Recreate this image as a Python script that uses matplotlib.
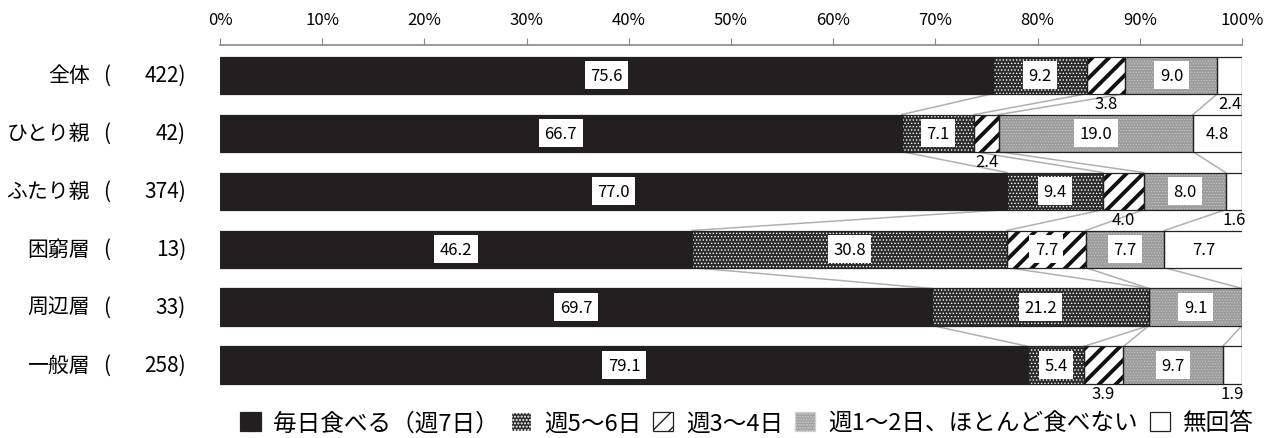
import numpy as np
import matplotlib
matplotlib.use("Agg")
import matplotlib.pyplot as plt
from matplotlib.patches import Patch
from matplotlib.transforms import blended_transform_factory

plt.rcParams['font.family'] = ['Noto Sans CJK JP', 'DejaVu Sans']

# Data
groups = ['全体', 'ひとり親', 'ふたり親', '困窮層', '周辺層', '一般層']
counts = [422, 42, 374, 13, 33, 258]
categories = ['毎日食べる（週7日）', '週5～6日', '週3～4日',
              '週1～2日、ほとんど食べない', '無回答']
every_day = [75.6, 66.7, 77.0, 46.2, 69.7, 79.1]
days_5_6 = [9.2, 7.1, 9.4, 30.8, 21.2, 5.4]
days_3_4 = [3.8, 2.4, 4.0, 7.7, 0.0, 3.9]
days_1_2 = [9.0, 19.0, 8.0, 7.7, 9.1, 9.7]
no_answer = [2.4, 4.8, 1.6, 7.7, 0.0, 1.9]

series = [every_day, days_5_6, days_3_4, days_1_2, no_answer]
# (face, hatch colour, hatch, hatch linewidth)
styles = [
    ('#231f20', '#231f20', None, 1.0),
    ('#2b2b2b', 'white', '.....', 0.6),
    ('white', '#111111', '//', 2.8),
    ('#9c9c9c', '#cfcfcf', '......', 0.4),
    ('white', 'white', None, 1.0),
]

W, H = 1277, 439
fig = plt.figure(figsize=(W / 100, H / 100), dpi=100)
ax = fig.add_axes([220 / W, (H - 395) / H, (1242 - 220) / W, (395 - 46) / H])

y = np.arange(len(groups))
bar_h = 0.64
data = np.array(series)
cum = np.vstack([np.zeros(len(groups)), np.cumsum(data, axis=0)])


def set_hlw(patch, lw):
    if hasattr(patch, 'set_hatch_linewidth'):
        patch.set_hatch_linewidth(lw)


for k, vals in enumerate(series):
    face, hcol, hatch, hlw = styles[k]
    with plt.rc_context({'hatch.linewidth': hlw}):
        bars = ax.barh(y, vals, left=cum[k], height=bar_h, color=face,
                       edgecolor=hcol, hatch=hatch, linewidth=0, zorder=2)
    for b in bars:
        set_hlw(b, hlw)
    ax.barh(y, vals, left=cum[k], height=bar_h, fill=False,
            edgecolor='#222222', linewidth=0.9, zorder=3)

# connector lines between bars
for i in range(len(groups) - 1):
    for k in range(1, 6):
        ax.plot([cum[k][i], cum[k][i + 1]], [i + bar_h / 2, i + 1 - bar_h / 2],
                color='#b0b0b0', lw=1.1, zorder=1)

# value labels
for k, vals in enumerate(series):
    for i, v in enumerate(vals):
        if v <= 0:
            continue
        xc = cum[k][i] + v / 2
        if v >= 4.5:
            ax.text(xc, i, f'{v:.1f}', ha='center', va='center', fontsize=12,
                    zorder=5, bbox=dict(facecolor='white', edgecolor='none',
                                        pad=4))
        else:
            ax.text(xc, i + bar_h / 2 + 0.03, f'{v:.1f}', ha='center',
                    va='top', fontsize=12, zorder=5)

ax.set_xlim(0, 100)
ax.set_ylim(len(groups) - 0.5, -0.52)
ax.xaxis.tick_top()
ax.set_xticks(np.arange(0, 101, 10))
ax.set_xticklabels([f'{t}%' for t in range(0, 101, 10)], fontsize=12)
ax.tick_params(axis='x', direction='out', length=5, color='#888888', pad=7)
ax.set_yticks([])
for s in ['bottom', 'left', 'right']:
    ax.spines[s].set_visible(False)
ax.spines['top'].set_color('#888888')
ax.spines['top'].set_linewidth(1.2)

# group labels
tr = blended_transform_factory(fig.transFigure, ax.transData)
for i, (g, n) in enumerate(zip(groups, counts)):
    ax.text(90 / W, i, g, transform=tr, ha='right', va='center', fontsize=15)
    ax.text(103 / W, i, '(', transform=tr, ha='left', va='center', fontsize=15)
    ax.text(186 / W, i, f'{n})', transform=tr, ha='right', va='center',
            fontsize=15)

# legend
handles = []
for k in range(5):
    face, hcol, hatch, hlw = styles[k]
    ec = '#222222' if hatch is None or k == 2 else hcol
    p = Patch(facecolor=face, edgecolor=ec, hatch=hatch, linewidth=0.9)
    handles.append(p)
fig.legend(handles, categories, loc='center', ncol=5,
           bbox_to_anchor=(747 / W, (H - 424) / H), frameon=False,
           fontsize=17, handlelength=0.85, handleheight=0.85,
           handletextpad=0.55, columnspacing=0.5, borderaxespad=0)

fig.savefig('out.png', dpi=100)
